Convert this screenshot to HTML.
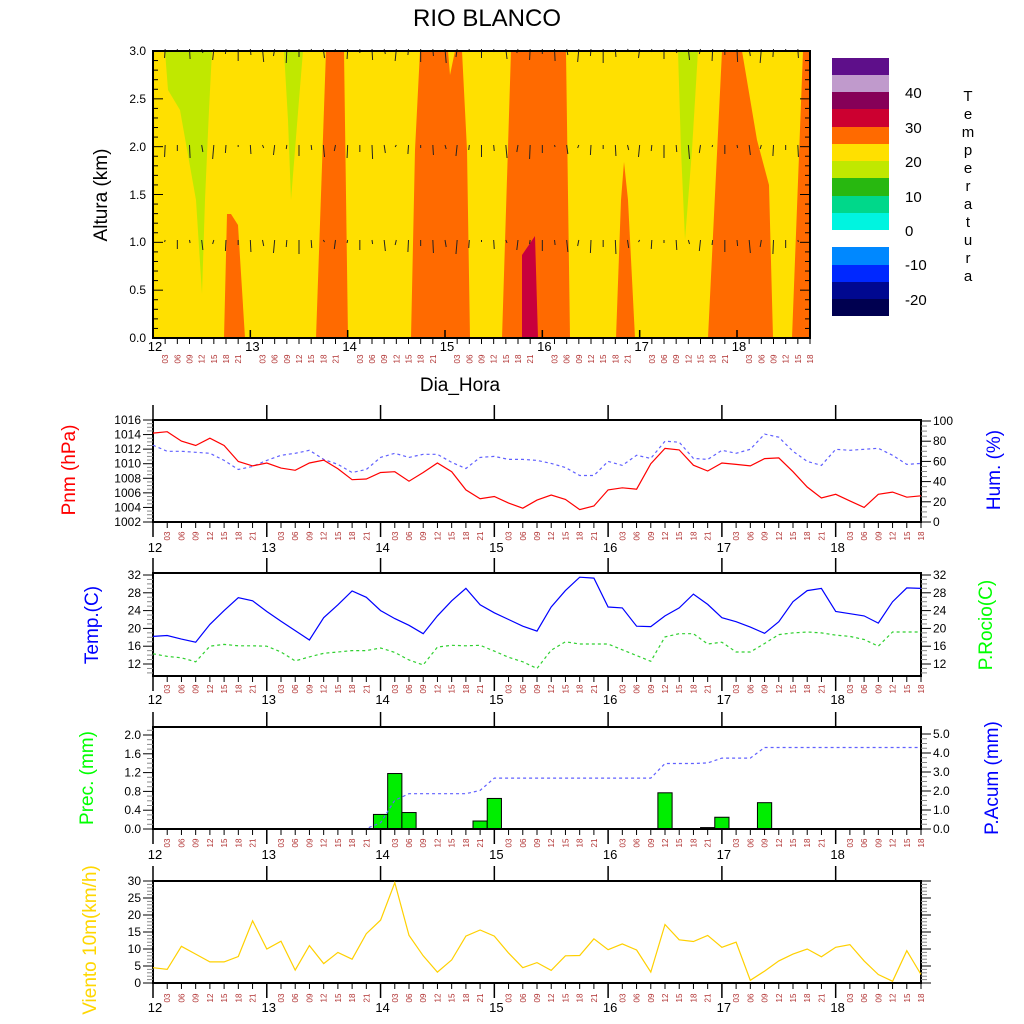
<!DOCTYPE html>
<html><head><meta charset="utf-8"><style>
html,body{margin:0;padding:0;background:#fff}
svg{display:block;font-family:"Liberation Sans",sans-serif}
</style></head><body>
<svg id="s" width="1024" height="1024" xmlns="http://www.w3.org/2000/svg">
<rect width="1024" height="1024" fill="#fff"/>
<text x="487" y="26" font-size="24" text-anchor="middle">RIO BLANCO</text>
<rect x="153" y="51" width="657" height="287" fill="#ffe000"/>
<polygon fill="#c0e800" points="165,51 212,51 209,110 205,200 202,294 196,200 180,110 168,90"/>
<polygon fill="#ff6a00" points="224,338 227,214 231,214 238,225 245,338"/>
<polygon fill="#c0e800" points="284,51 303,51 299,100 291,200 288,120"/>
<polygon fill="#ff6a00" points="326,51 344,51 348,338 316,338"/>
<polygon fill="#ff6a00" points="420,51 448,51 450,75 455,51 462,51 467,150 470,338 411,338 415,150"/>
<polygon fill="#ff6a00" points="511,51 566,51 570,338 502,338"/>
<polygon fill="#c8003c" points="522,338 522,255 535,236 538,338"/>
<polygon fill="#ff6a00" points="616,338 621,200 624,162 628,200 635,338"/>
<polygon fill="#c0e800" points="678,51 698,51 692,150 685,240 681,150"/>
<polygon fill="#ff6a00" points="722,51 742,51 757,140 769,185 773,338 708,338"/>
<polygon fill="#ff6a00" points="803,51 810,51 810,338 792,338"/>
<g id="arrows" stroke="#222" stroke-width="1"></g>
<rect x="153" y="51" width="657" height="287" fill="none" stroke="#000" stroke-width="2"/>
<g id="dyn"></g>
<rect x="832" y="58" width="57" height="17" fill="#5e0f8a"/>
<rect x="832" y="75" width="57" height="17" fill="#c09acc"/>
<rect x="832" y="92" width="57" height="17" fill="#860058"/>
<rect x="832" y="109" width="57" height="18" fill="#cc0030"/>
<rect x="832" y="127" width="57" height="17" fill="#ff6a00"/>
<rect x="832" y="144" width="57" height="17" fill="#ffe000"/>
<rect x="832" y="161" width="57" height="17" fill="#c0e800"/>
<rect x="832" y="178" width="57" height="18" fill="#28b810"/>
<rect x="832" y="196" width="57" height="17" fill="#00d88a"/>
<rect x="832" y="213" width="57" height="17" fill="#00f4e0"/>
<rect x="832" y="247" width="57" height="18" fill="#0088ff"/>
<rect x="832" y="265" width="57" height="17" fill="#0028ff"/>
<rect x="832" y="282" width="57" height="17" fill="#000890"/>
<rect x="832" y="299" width="57" height="17" fill="#000050"/>
<g font-size="15">
<text x="905" y="98">40</text><text x="905" y="133">30</text><text x="905" y="167">20</text><text x="905" y="202">10</text><text x="905" y="236">0</text><text x="905" y="270">-10</text><text x="905" y="305">-20</text>
</g>
<g font-size="15" text-anchor="middle">
<text x="968" y="101">T</text><text x="968" y="119">e</text><text x="968" y="137">m</text><text x="968" y="155">p</text><text x="968" y="173">e</text><text x="968" y="191">r</text><text x="968" y="209">a</text><text x="968" y="227">t</text><text x="968" y="245">u</text><text x="968" y="263">r</text><text x="968" y="281">a</text>
</g>
<text x="460" y="391" font-size="19" text-anchor="middle">Dia_Hora</text>
<text transform="translate(107,195) rotate(-90)" font-size="19" text-anchor="middle">Altura (km)</text>
<g font-size="12" text-anchor="end">
<text x="146" y="55">3.0</text><text x="146" y="103">2.5</text><text x="146" y="151">2.0</text><text x="146" y="199">1.5</text><text x="146" y="246">1.0</text><text x="146" y="294">0.5</text><text x="146" y="342">0.0</text>
</g>
<text transform="translate(75,470) rotate(-90)" font-size="19" fill="#f00" text-anchor="middle">Pnm (hPa)</text>
<text transform="translate(1000,470) rotate(-90)" font-size="19" fill="#00f" text-anchor="middle">Hum. (%)</text>
<text transform="translate(98,625) rotate(-90)" font-size="19" fill="#00f" text-anchor="middle">Temp.(C)</text>
<text transform="translate(992,625) rotate(-90)" font-size="19" fill="#0f0" text-anchor="middle">P.Rocio(C)</text>
<text transform="translate(93,778) rotate(-90)" font-size="19" fill="#0f0" text-anchor="middle">Prec. (mm)</text>
<text transform="translate(998,778) rotate(-90)" font-size="19" fill="#00f" text-anchor="middle">P.Acum (mm)</text>
<text transform="translate(96,940) rotate(-90)" font-size="19" fill="#ffd700" text-anchor="middle">Viento 10m(km/h)</text>
</svg>
<script>
var NS="http://www.w3.org/2000/svg",g=document.getElementById('dyn');
function el(t,a,txt){var e=document.createElementNS(NS,t);for(var k in a)e.setAttribute(k,a[k]);if(txt!==undefined)e.textContent=txt;g.appendChild(e);return e;}
var hrs=["03","06","09","12","15","18","21"];
function xlabels(x0,dx,yAx,dayY,hrY,major,fs){
 for(var i=0;i<=54;i++){var x=x0+dx*i,d=i%8==0;
  el('line',{x1:x,y1:yAx,x2:x,y2:yAx+(d?major:6),stroke:'#000','stroke-width':d?1.5:1});
  if(d) el('text',{x:x+(fs>12?2:0),y:dayY,'font-size':fs||13,'text-anchor':'middle'},12+i/8);
  else el('text',{transform:'translate('+(x+3)+','+hrY+') rotate(-90)','font-size':8,fill:'#b03030','text-anchor':'middle'},hrs[i%8-1]);
 }
}
xlabels(153,657/54,338,351,359,-8,13);
for(var j=0;j<=30;j++){var y=338-j*287/30,m=j%5==0;
 el('line',{x1:153,y1:y,x2:153+(m?10:5),y2:y,stroke:'#000'});
 el('line',{x1:810,y1:y,x2:810-(m?10:5),y2:y,stroke:'#000'});}
var ag=document.getElementById('arrows');
for(var i=1;i<54;i++){var x=153+657/54*i;[51,147,242].forEach(function(y,k){var L=(i*7+k*3)%13;var e=document.createElementNS(NS,'line');e.setAttribute('x1',x);e.setAttribute('y1',y-2);e.setAttribute('x2',x+((i%5)-2)*0.6);e.setAttribute('y2',y+L);e.setAttribute('stroke','#222');ag.appendChild(e);});}
function panel(top,bot,dayY,hrY,leftTicks,rightTicks){
 var x0=153,x1=921,dx=(x1-x0)/54;
 el('rect',{x:x0,y:top,width:x1-x0,height:bot-top,fill:'none',stroke:'#000','stroke-width':2});
 for(var i=0;i<=54;i+=8){var x=x0+dx*i;el('line',{x1:x,y1:top,x2:x,y2:top-15,stroke:'#000','stroke-width':1.5});}
 xlabels(x0,dx,bot,dayY,hrY,15,13);
 [[x0,-1,leftTicks],[x1,1,rightTicks]].forEach(function(s){var t=s[2];if(!t)return;
  for(var v=t.lo;v<=t.hi+1e-9;v+=t.minor){var y=t.map(v),mj=Math.abs(v/t.major-Math.round(v/t.major))<1e-6;
   if(y<top-0.5||y>bot+0.5)continue;
   el('line',{x1:s[0],y1:y,x2:s[0]+s[1]*(mj?10:6),y2:y,stroke:mj?'#000':'#888'});
   if(mj&&t.lab)el('text',{x:s[1]<0?s[0]-12:s[0]+12,y:y+4,'font-size':12,'text-anchor':s[1]<0?'end':'start'},t.fmt(v));}
 });
}
function line(vals,map,col,dash,from){var x0=153,dx=768/54,p=[];vals.forEach(function(v,i){if(i>=(from||0))p.push((x0+dx*i).toFixed(1)+','+map(v).toFixed(1));});
 var a={points:p.join(' '),fill:'none',stroke:col,'stroke-width':1.2};if(dash)a['stroke-dasharray']=dash;el('polyline',a);}
var pm=function(v){return 522-(v-1002)*102/14;},hm=function(v){return 522-v*1.01;};
panel(420,522,552,536,{lo:1002,hi:1016,minor:0.5,major:2,map:pm,lab:1,fmt:function(v){return v}},{lo:0,hi:100,minor:5,major:20,map:hm,lab:1,fmt:function(v){return v}});
var pnm=[1014.2,1014.4,1013.1,1012.5,1013.5,1012.5,1010.3,1009.7,1010.1,1009.4,1009.1,1010.1,1010.5,1009.3,1007.8,1007.9,1008.8,1008.9,1007.6,1008.8,1010.1,1008.9,1006.4,1005.2,1005.5,1004.6,1003.9,1005.0,1005.7,1005.1,1003.7,1004.2,1006.4,1006.7,1006.5,1010.0,1012.1,1011.9,1009.8,1009.0,1010.1,1009.9,1009.7,1010.7,1010.8,1008.9,1006.8,1005.3,1005.8,1004.9,1004.0,1005.8,1006.1,1005.4,1005.6];
var hum=[76,70,70,69,68,61,52,55,61,66,68,71,62,57,49,52,64,68,64,67,67,59,53,64,65,62,62,61,58,54,46,46,60,56,66,63,80,79,63,62,71,68,72,87,84,70,60,56,72,71,72,73,66,57,58];
line(hum,hm,'#6060ff','3,3');line(pnm,pm,'#f00');
var tm=function(v){return 575-(v-32)*4.45;};
panel(573,676,704,689,{lo:10,hi:32,minor:1,major:4,map:tm,lab:1,fmt:function(v){return v}},{lo:10,hi:32,minor:1,major:4,map:tm,lab:1,fmt:function(v){return v}});
var tt=[18.2,18.4,17.6,16.9,20.9,24.0,26.9,26.2,23.8,21.6,19.5,17.4,22.4,25.3,28.4,27.0,24.0,22.2,20.7,18.8,22.8,26.2,29.0,25.3,23.5,22.0,20.5,19.4,24.8,28.5,31.5,31.3,24.8,24.6,20.5,20.4,22.8,24.6,27.7,25.4,22.4,21.5,20.3,18.9,21.5,26.0,28.5,29.0,23.8,23.3,22.8,21.2,26.0,29.1,29.0];
var td=[14.3,13.7,13.4,12.5,16.0,16.4,16.1,16.1,16.0,14.7,12.7,13.6,14.4,14.7,15.0,15.0,15.6,14.6,12.9,11.8,15.8,16.2,16.1,16.2,14.9,13.5,12.5,11.0,15.1,17.0,16.5,16.5,16.5,15.2,13.9,12.6,18.1,18.8,18.8,16.5,16.9,14.7,14.7,16.6,18.6,19.0,19.2,19.0,18.5,18.2,17.5,16.0,19.2,19.2,19.2];
line(td,tm,'#30d030','3,3');line(tt,tm,'#00f');
var prm=function(v){return 829-v*47;},acm=function(v){return 829-v*19;};
var pr=new Array(55).fill(0);pr[2]=0.01;pr[15]=0.01;pr[16]=0.31;pr[17]=1.18;pr[18]=0.35;pr[23]=0.17;pr[24]=0.65;pr[36]=0.77;pr[39]=0.03;pr[40]=0.25;pr[43]=0.56;
var dx=768/54;pr.forEach(function(v,i){if(v>0.005&&i>0){var x=153+dx*i;el('rect',{x:x-dx/2,y:prm(v),width:dx,height:v*47,fill:'#00ee00',stroke:'#000','stroke-width':1});}});
var ac=[],c=0;pr.forEach(function(v){c+=v;ac.push(c);});
line(ac,acm,'#6060ff','3,3');
panel(727,829,859,843,{lo:0,hi:2.19,minor:0.1,major:0.4,map:prm,lab:1,fmt:function(v){return v.toFixed(1)}},{lo:0,hi:5.1,minor:0.25,major:1,map:acm,lab:1,fmt:function(v){return v.toFixed(1)}});
var wm=function(v){return 983-v*3.4;};
panel(881,983,1012,998,{lo:0,hi:30,minor:1,major:5,map:wm,lab:1,fmt:function(v){return v}},{lo:0,hi:30,minor:1,major:5,map:wm,lab:0});
var wd=[4.5,4.0,10.8,8.5,6.2,6.2,7.8,18.3,10.0,12.3,3.8,11.0,5.7,9.0,7.0,14.5,18.5,29.5,14.0,8.0,3.2,6.8,13.8,15.6,13.8,8.8,4.5,6.0,3.7,8.0,8.1,13.0,9.8,11.5,9.7,3.2,17.2,12.7,12.2,14.0,10.5,12.0,0.8,3.5,6.5,8.5,10.0,7.7,10.5,11.3,6.5,2.5,0.5,9.5,2.5];
line(wd,wm,'#ffd000');
</script>
</body></html>
